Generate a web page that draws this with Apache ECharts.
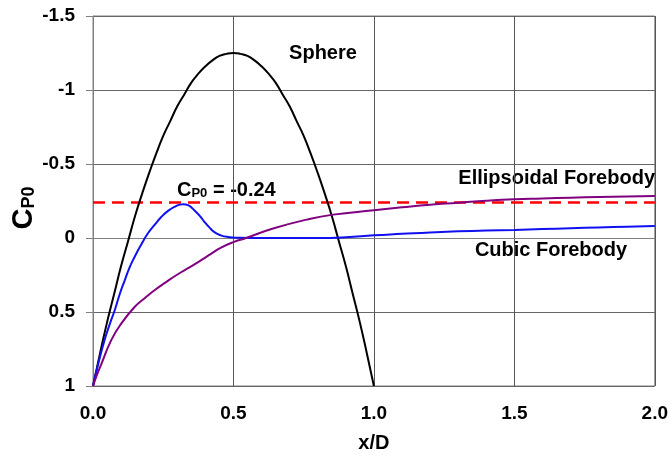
<!DOCTYPE html>
<html>
<head>
<meta charset="utf-8">
<script src="https://cdn.jsdelivr.net/npm/echarts@6/dist/echarts.min.js"></script>
<style>html,body{margin:0;padding:0;background:#fff}#c{width:671px;height:464px}</style>
</head>
<body>
<div id="c"></div>
<script>
var xTicks = ['0.0', '0.5', '1.0', '1.5', '2.0'];
var sphereX = [0, 0.025, 0.05, 0.075, 0.1, 0.125, 0.15, 0.175, 0.2, 0.225, 0.25, 0.275, 0.3, 0.325, 0.35, 0.375, 0.4, 0.425, 0.45, 0.475, 0.5, 0.525, 0.55, 0.575, 0.6, 0.625, 0.65, 0.675, 0.7, 0.725, 0.75, 0.775, 0.8, 0.825, 0.85, 0.875, 0.9, 0.925, 0.95, 0.975, 1.0];
var sphereY = [1.0, 0.78, 0.57, 0.38, 0.19, 0.02, -0.15, -0.30, -0.44, -0.57, -0.69, -0.79, -0.89, -0.97, -1.05, -1.11, -1.16, -1.20, -1.23, -1.244, -1.25, -1.244, -1.23, -1.20, -1.16, -1.11, -1.05, -0.97, -0.89, -0.79, -0.69, -0.57, -0.44, -0.30, -0.15, 0.02, 0.19, 0.38, 0.57, 0.78, 1.0];
var cubicX = [0, 0.02, 0.041, 0.06, 0.077, 0.095, 0.113, 0.13, 0.148, 0.17, 0.195, 0.22, 0.243, 0.265, 0.29, 0.32, 0.34, 0.361, 0.38, 0.397, 0.415, 0.432, 0.455, 0.48, 0.52, 0.6, 0.7, 0.8, 0.9, 1.0, 1.1, 1.2, 1.3, 1.4, 1.5, 1.6, 1.7, 1.8, 1.9, 2.0];
var cubicY = [1.0, 0.84, 0.69, 0.58, 0.49, 0.38, 0.286, 0.2, 0.128, 0.05, -0.03, -0.09, -0.142, -0.18, -0.21, -0.228, -0.22, -0.187, -0.15, -0.108, -0.07, -0.04, -0.018, -0.007, -0.002, 0, 0, 0, -0.005, -0.018, -0.028, -0.038, -0.045, -0.05, -0.054, -0.06, -0.066, -0.071, -0.076, -0.081];
var ellipX = [0, 0.015, 0.03, 0.065, 0.1, 0.148, 0.185, 0.219, 0.26, 0.302, 0.345, 0.385, 0.42, 0.456, 0.5, 0.545, 0.641, 0.76, 0.855, 1.0, 1.1, 1.2, 1.3, 1.4, 1.5, 1.6, 1.7, 1.8, 1.9, 2.0];
var ellipY = [1.0, 0.92, 0.85, 0.69, 0.58, 0.466, 0.405, 0.353, 0.298, 0.245, 0.197, 0.15, 0.107, 0.065, 0.028, 0.0, -0.064, -0.124, -0.158, -0.187, -0.207, -0.225, -0.238, -0.252, -0.262, -0.267, -0.272, -0.277, -0.281, -0.284];
var refX = [0, 2.0];
var refY = [-0.24, -0.24];

function zip(a, b) { return a.map(function (v, i) { return [v, b[i]]; }); }

var FF = 'Liberation Sans, Arial, sans-serif';
var chart = echarts.init(document.getElementById('c'));
var bold = {fontFamily: FF, fontWeight: 'bold', color: '#000'};
chart.setOption({
  animation: false,
  backgroundColor: '#fff',
  grid: {left: 93, right: 16, top: 16, bottom: 78, show: true, borderColor: '#808080', borderWidth: 1},
  xAxis: {
    type: 'value', min: 0, max: 2, interval: 0.5,
    axisLine: {show: true, lineStyle: {color: '#808080', width: 1}},
    axisTick: {show: false},
    splitLine: {show: true, lineStyle: {color: '#555555', width: 1}},
    axisLabel: Object.assign({fontSize: 19, margin: 18, formatter: function (v) { return xTicks[Math.round(v / 0.5)]; }}, bold),
    name: 'x/D', nameLocation: 'middle', nameGap: 47,
    nameTextStyle: Object.assign({fontSize: 20}, bold)
  },
  yAxis: {
    type: 'value', min: -1.5, max: 1, interval: 0.5, inverse: true,
    axisLine: {show: true, lineStyle: {color: '#808080', width: 1}},
    axisTick: {show: true, inside: false, length: 7, lineStyle: {color: '#808080'}},
    splitLine: {show: true, lineStyle: {color: '#666666', width: 1}},
    axisLabel: Object.assign({fontSize: 19, margin: 18}, bold)
  },
  series: [
    {type: 'line', data: zip(refX, refY), showSymbol: false, lineStyle: {color: '#ff0000', width: 2.5, type: [12, 7]}, z: 3},
    {type: 'line', data: zip(sphereX, sphereY), showSymbol: false, smooth: 0.5, lineStyle: {color: '#000000', width: 2}},
    {type: 'line', data: zip(cubicX, cubicY), showSymbol: false, smooth: 0.5, lineStyle: {color: '#1010f0', width: 2}},
    {type: 'line', data: zip(ellipX, ellipY), showSymbol: false, smooth: 0.5, lineStyle: {color: '#800080', width: 2}}
  ],
  graphic: [
    {type: 'text', x: 323, y: 53, style: {text: 'Sphere', align: 'center', verticalAlign: 'middle', fontSize: 20, fill: '#000', fontFamily: FF, fontWeight: 'bold'}},
    {type: 'text', x: 655, y: 178, style: {text: 'Ellipsoidal Forebody', align: 'right', verticalAlign: 'middle', fontSize: 20, fill: '#000', fontFamily: FF, fontWeight: 'bold'}},
    {type: 'text', x: 551, y: 250, style: {text: 'Cubic Forebody', align: 'center', verticalAlign: 'middle', fontSize: 20, fill: '#000', fontFamily: FF, fontWeight: 'bold'}},
    {type: 'text', x: 177, y: 188, style: {
      text: '{c|C}{s|P0}{c| = -0.24}', align: 'left', verticalAlign: 'middle', fontFamily: FF,
      rich: {
        c: {fontSize: 20, fontWeight: 'bold', fill: '#000', fontFamily: FF, verticalAlign: 'bottom', lineHeight: 24},
        s: {fontSize: 13, fontWeight: 'bold', fill: '#000', fontFamily: FF, verticalAlign: 'bottom', lineHeight: 18}
      }
    }},
    {type: 'text', x: 21, y: 208, rotation: Math.PI / 2, style: {
      text: '{c|C}{s|P0}', align: 'center', verticalAlign: 'middle', fontFamily: FF,
      rich: {
        c: {fontSize: 29, fontWeight: 'bold', fill: '#000', fontFamily: FF, verticalAlign: 'bottom', lineHeight: 34},
        s: {fontSize: 18, fontWeight: 'bold', fill: '#000', fontFamily: FF, verticalAlign: 'bottom', lineHeight: 25}
      }
    }}
  ]
});
</script>
</body>
</html>
